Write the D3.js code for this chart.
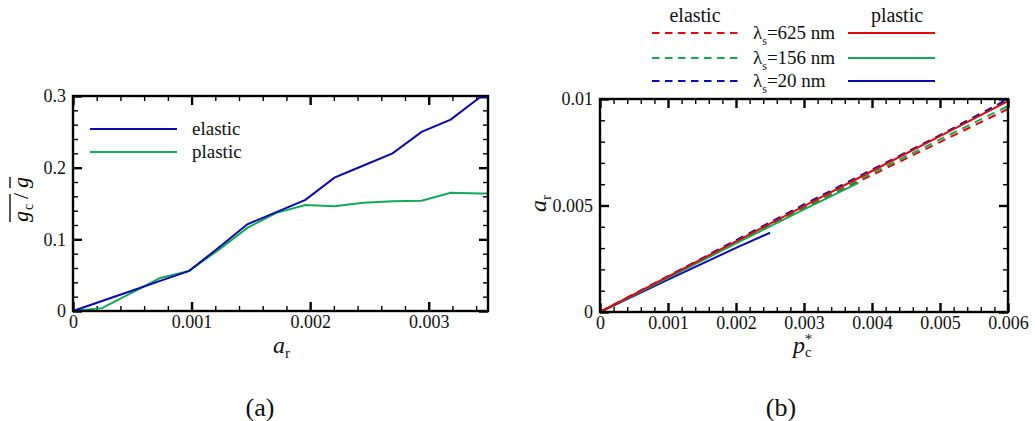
<!DOCTYPE html>
<html>
<head>
<meta charset="utf-8">
<script src="https://cdn.jsdelivr.net/npm/d3@7"></script>
<style>
   body { margin: 0; background: #fff; }
   svg { display: block; }
   text { font-family: "Liberation Serif", "Times New Roman", serif; }
</style>
</head>
<body>
<svg id="fig" width="1035" height="421"></svg>
<script>
// ---- panel (a): critical gap ratio vs a_r ----
const arValues  = [0, 0.000245, 0.00049, 0.000735, 0.00098, 0.001225, 0.00147, 0.001715,
                   0.00196, 0.002205, 0.00245, 0.002695, 0.00294, 0.003185, 0.00343, 0.0035];
const gcElastic = [0, 0.014, 0.028, 0.042, 0.056, 0.088, 0.121, 0.138,
                   0.155, 0.186, 0.203, 0.220, 0.250, 0.267, 0.298, 0.298];
const gcPlastic = [0, 0.004, 0.025, 0.046, 0.056, 0.085, 0.116, 0.137,
                   0.148, 0.146, 0.151, 0.153, 0.154, 0.165, 0.164, 0.164];
const aXTicks = [0, 0.001, 0.002, 0.003];
const aYTicks = [0, 0.1, 0.2, 0.3];

// ---- panel (b): a_r vs p*_c ----
const pcValues   = [0, 0.001, 0.002, 0.003, 0.004, 0.005, 0.006];
const elastic625 = [0, 0.00163, 0.00326, 0.00488, 0.00643, 0.00798, 0.00953];
const elastic156 = [0, 0.00165, 0.0033, 0.00494, 0.00652, 0.0081, 0.00967];
const elastic20  = [0, 0.00168, 0.00337, 0.00505, 0.00668, 0.00830, 0.0100];
const plastic625 = [0, 0.00166, 0.00332, 0.00497, 0.00662, 0.00826, 0.0099];
const pc156 = [0, 0.001, 0.002, 0.003, 0.0038];
const plastic156 = [0, 0.0016, 0.00322, 0.00482, 0.00606];
const pc20 = [0, 0.001, 0.002, 0.0025];
const plastic20 = [0, 0.00152, 0.00301, 0.00372];
const bXTicks = [0, 0.001, 0.002, 0.003, 0.004, 0.005, 0.006];
const bYTicks = [0, 0.005, 0.01];
const sizes = ['625', '156', '20'];

const BLUE = '#0a0ab0', GREEN = '#12aa55', RED = '#e00a0a';
const SERIF = '"Liberation Serif", "Times New Roman", serif';

let svg = d3.select('#fig');

let fmt = d => String(+d.toFixed(6));

function minorTicks(max, step, major) {
   return d3.range(0, max + step / 2, step)
      .map(v => +v.toFixed(7))
      .filter(v => !major.some(m => Math.abs(m - v) < step / 10));
}

// frame with inward ticks on all four sides
function frame(o) {
   let x = d3.scaleLinear().domain([0, o.xMax]).range([o.left, o.right]);
   let y = d3.scaleLinear().domain([0, o.yMax]).range([o.bottom, o.top]);
   let g = svg.append('g');

   let xMinor = minorTicks(o.xMax, o.xStep, o.xTicks);
   let yMinor = minorTicks(o.yMax, o.yStep, o.yTicks);

   let sides = [
      [d3.axisBottom, x, `translate(0,${o.bottom})`, true],
      [d3.axisTop, x, `translate(0,${o.top})`, false],
      [d3.axisLeft, y, `translate(${o.left},0)`, true],
      [d3.axisRight, y, `translate(${o.right},0)`, false]
   ];
   sides.forEach(([ax, sc, tr, labels], i) => {
      let isX = i < 2;
      let major = isX ? o.xTicks : o.yTicks;
      let minor = isX ? xMinor : yMinor;
      g.append('g').attr('transform', tr)
         .call(ax(sc).tickValues(minor).tickSize(-5).tickFormat(''))
         .call(a => a.select('.domain').remove())
         .selectAll('line').attr('stroke-width', 1.4);
      g.append('g').attr('transform', tr)
         .call(ax(sc).tickValues(major).tickSize(-9)
            .tickPadding(isX ? 4 : 7)
            .tickFormat(labels ? fmt : ''))
         .call(a => a.select('.domain').remove())
         .attr('font-family', SERIF).attr('font-size', 18)
         .call(a => a.selectAll('line').attr('stroke-width', 2.4))
         .call(a => a.selectAll('text')
            .attr('fill', '#111')
            .style('font-family', SERIF)
            .style('font-size', '18px'));
   });

   g.append('rect')
      .attr('x', o.left).attr('y', o.top)
      .attr('width', o.right - o.left).attr('height', o.bottom - o.top)
      .attr('fill', 'none').attr('stroke', '#000').attr('stroke-width', 2.4);

   return { x, y, g };
}

function drawLine(p, xs, ys, color, dash) {
   let line = d3.line().x(d => p.x(d[0])).y(d => p.y(d[1]));
   p.g.insert('path', 'rect')
      .datum(xs.map((v, i) => [v, ys[i]]))
      .attr('d', line)
      .attr('fill', 'none')
      .attr('stroke', color)
      .attr('stroke-width', 2)
      .attr('stroke-dasharray', dash || null);
}

// ---------- panel (a) ----------
let pa = frame({ left: 73, right: 488, top: 96, bottom: 311,
   xMax: 0.0035, yMax: 0.3, xTicks: aXTicks, yTicks: aYTicks, xStep: 0.0002, yStep: 0.02 });

drawLine(pa, arValues, gcPlastic, GREEN);
drawLine(pa, arValues, gcElastic, BLUE);

[['elastic', BLUE, 129], ['plastic', GREEN, 152]].forEach(([name, c, ly]) => {
   svg.append('line').attr('x1', 90).attr('x2', 177).attr('y1', ly).attr('y2', ly)
      .attr('stroke', c).attr('stroke-width', 2);
   svg.append('text').attr('x', 192).attr('y', ly + 6)
      .attr('font-size', 19).attr('fill', '#111').text(name);
});

// y label: overline g_c / overline g
let yl = svg.append('g').attr('transform', 'translate(28,200) rotate(-90)');
yl.append('text').attr('x', -22).attr('y', 0).attr('font-size', 22).attr('font-style', 'italic').text('g');
yl.append('text').attr('x', -10).attr('y', 5).attr('font-size', 14).text('c');
yl.append('text').attr('x', 1).attr('y', 0).attr('font-size', 22).text('/');
yl.append('text').attr('x', 12).attr('y', 0).attr('font-size', 22).attr('font-style', 'italic').text('g');
[[-22, 6], [12, 23]].forEach(([a, b]) => {
   yl.append('line').attr('x1', a).attr('x2', b).attr('y1', -18).attr('y2', -18)
      .attr('stroke', '#111').attr('stroke-width', 1.4);
});

let xla = svg.append('text').attr('x', 273).attr('y', 353).attr('font-size', 24).attr('fill', '#111');
xla.append('tspan').attr('font-style', 'italic').text('a');
xla.append('tspan').attr('font-size', 15).attr('dy', 5).text('r');

// ---------- panel (b) ----------
let pb = frame({ left: 600, right: 1008, top: 99, bottom: 312,
   xMax: 0.006, yMax: 0.01, xTicks: bXTicks, yTicks: bYTicks, xStep: 0.0002, yStep: 0.001 });

drawLine(pb, pcValues, elastic625, RED, '8,6');
drawLine(pb, pcValues, elastic156, GREEN, '8,6');
drawLine(pb, pcValues, elastic20, BLUE, '8,6');
drawLine(pb, pc20, plastic20, BLUE);
drawLine(pb, pc156, plastic156, GREEN);
drawLine(pb, pcValues, plastic625, RED);

let yb = svg.append('text').attr('transform', 'translate(546,212) rotate(-90)')
   .attr('font-size', 24).attr('fill', '#111');
yb.append('tspan').attr('font-style', 'italic').text('a');
yb.append('tspan').attr('font-size', 15).attr('dy', 5).text('r');

// p*_c : asterisk stacked above the subscript
let xlb = svg.append('text').attr('x', 793).attr('y', 353).attr('font-size', 24).attr('fill', '#111');
xlb.append('tspan').attr('font-style', 'italic').text('p');
xlb.append('tspan').attr('font-size', 15).attr('dy', 4).text('c');
xlb.append('tspan').attr('font-size', 15).attr('dx', -7).attr('dy', -13).text('*');

// legend of (b)
svg.append('text').attr('x', 695).attr('y', 22).attr('text-anchor', 'middle')
   .attr('font-size', 20).attr('fill', '#111').text('elastic');
svg.append('text').attr('x', 897).attr('y', 22).attr('text-anchor', 'middle')
   .attr('font-size', 20).attr('fill', '#111').text('plastic');

[RED, GREEN, BLUE].forEach((c, i) => {
   let ly = [33, 58, 81][i];
   svg.append('line').attr('x1', 652).attr('x2', 738).attr('y1', ly).attr('y2', ly)
      .attr('stroke', c).attr('stroke-width', 2).attr('stroke-dasharray', '7.5,5.5');
   svg.append('line').attr('x1', 848).attr('x2', 935).attr('y1', ly).attr('y2', ly)
      .attr('stroke', c).attr('stroke-width', 2);
   let t = svg.append('text').attr('x', 753).attr('y', ly + 6).attr('font-size', 19).attr('fill', '#111');
   t.append('tspan').text('λ');
   t.append('tspan').attr('font-size', 12).attr('dy', 6).text('s');
   t.append('tspan').attr('dy', -6).text('=' + sizes[i] + ' nm');
});

// captions
svg.append('text').attr('x', 260).attr('y', 416).attr('text-anchor', 'middle')
   .attr('font-size', 26).attr('fill', '#111').text('(a)');
svg.append('text').attr('x', 781).attr('y', 416).attr('text-anchor', 'middle')
   .attr('font-size', 26).attr('fill', '#111').text('(b)');
</script>
</body>
</html>
